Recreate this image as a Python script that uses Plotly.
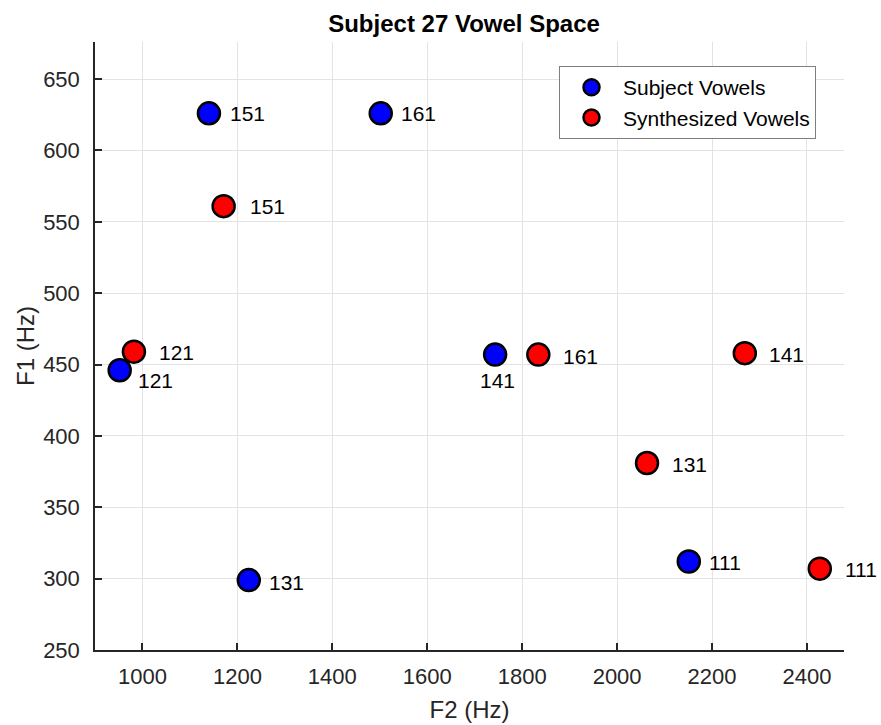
import plotly.graph_objects as go

# Subject vowels (blue)
subj_labels = ["111", "121", "131", "141", "151", "161"]
subj_f2 = [2151, 952, 1224, 1743, 1140, 1502]
subj_f1 = [312, 446, 299, 457, 626, 626]

# Synthesized vowels (red)
synth_labels = ["111", "121", "131", "141", "151", "161"]
synth_f2 = [2427, 982, 2063, 2269, 1171, 1834]
synth_f1 = [307, 459, 381, 458, 561, 457]

# label offsets in pixels (style only)
subj_off = [(18, -1, "left"), (16, -10, "left"), (18, -2, "left"), (2, -26, "center"), (19, 0, "left"), (18, 0, "left")]
synth_off = [(23, -1, "left"), (23, -1, "left"), (23, -1, "left"), (22, -1, "left"), (24, 0, "left"), (23, -2, "left")]

x_ticks = [1000, 1200, 1400, 1600, 1800, 2000, 2200, 2400]
y_ticks = [250, 300, 350, 400, 450, 500, 550, 600, 650]

FONT = "Arial, Liberation Sans, sans-serif"
AXC = "#262626"

fig = go.Figure()
fig.add_trace(go.Scatter(
    x=subj_f2, y=subj_f1, mode="markers", name="Subject Vowels",
    marker=dict(color="#0000ff", size=22, line=dict(color="black", width=2.5)),
    cliponaxis=False))
fig.add_trace(go.Scatter(
    x=synth_f2, y=synth_f1, mode="markers", name="Synthesized Vowels",
    marker=dict(color="#ff0000", size=22, line=dict(color="black", width=2.5)),
    cliponaxis=False))

annotations = []
for xs, ys, labs, offs in [(subj_f2, subj_f1, subj_labels, subj_off),
                           (synth_f2, synth_f1, synth_labels, synth_off)]:
    for x, y, t, (dx, dy, anc) in zip(xs, ys, labs, offs):
        annotations.append(dict(
            x=x, y=y, xref="x", yref="y", text=t, showarrow=False,
            xanchor=anc, yanchor="middle", xshift=dx, yshift=dy,
            font=dict(family=FONT, size=21, color="black")))

fig.update_layout(
    width=881, height=725,
    margin=dict(l=95, r=37, t=42, b=75),
    paper_bgcolor="white", plot_bgcolor="white",
    title=dict(text="<b>Subject 27 Vowel Space</b>", x=0.4927, xref="paper",
               y=1 - 24 / 725, yref="container", yanchor="middle", xanchor="center",
               font=dict(family=FONT, size=24, color="black")),
    xaxis=dict(range=[900, 2478], tickvals=x_ticks, ticktext=[str(v) for v in x_ticks],
               showgrid=True, gridcolor="#e3e3e3", gridwidth=1, automargin=False,
               showline=True, linecolor=AXC, linewidth=1.5, zeroline=False,
               ticks="inside", ticklen=7, tickcolor=AXC, tickwidth=1.5,
               tickfont=dict(family=FONT, size=22, color=AXC),
               ticklabelstandoff=6,
               title=dict(text="F2 (Hz)", font=dict(family=FONT, size=24, color=AXC), standoff=13)),
    yaxis=dict(range=[250, 676], tickvals=y_ticks, ticktext=[str(v) for v in y_ticks],
               showgrid=True, gridcolor="#e3e3e3", gridwidth=1, automargin=False,
               showline=True, linecolor=AXC, linewidth=1.5, zeroline=False,
               ticks="inside", ticklen=7, tickcolor=AXC, tickwidth=1.5,
               tickfont=dict(family=FONT, size=22, color=AXC),
               ticklabelstandoff=9,
               title=dict(text="F1 (Hz)", font=dict(family=FONT, size=24, color=AXC), standoff=2)),
    legend=dict(x=0.6195, y=0.9605, xanchor="left", yanchor="top",
                bgcolor="white", bordercolor="#7f7f7f", borderwidth=1,
                font=dict(family=FONT, size=21, color="black"),
                itemwidth=53),
    annotations=annotations,
    showlegend=True,
)

fig.write_html("out.html", config={"displayModeBar": False},
               post_script="document.body.style.margin='0px';document.body.style.overflow='hidden';")
